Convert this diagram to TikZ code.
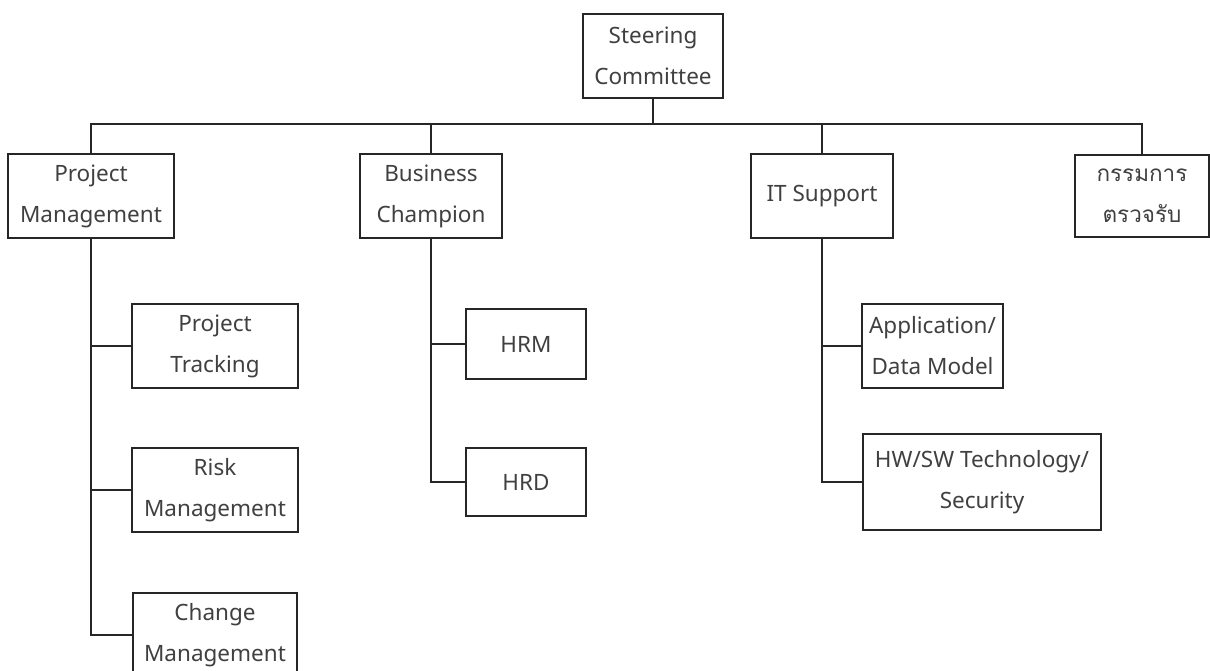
\documentclass[tikz,border=0pt]{standalone}
\usepackage{fontspec}
\setmainfont{Noto Sans}
\newfontfamily\thaifont[Script=Thai]{Loma}
\definecolor{txt}{HTML}{404040}
\definecolor{ln}{HTML}{262626}
\begin{document}
\begin{tikzpicture}[x=1pt,y=-1pt,
  box/.style={draw=ln, line width=1.4pt, rectangle, inner sep=0pt, align=center,
    text=txt, font=\fontsize{22.5}{41}\selectfont},
  conn/.style={draw=ln, line width=1.5pt}]
\fill[white] (0,0) rectangle (1210,671);
\useasboundingbox (0,0) rectangle (1210,671);
% top
\node[box, minimum width=140pt, minimum height=84pt] (steer) at (653,56) {Steering\\Committee};
% level 1
\node[box, minimum width=166pt, minimum height=84pt] (pm) at (91,196) {Project\\Management};
\node[box, minimum width=142pt, minimum height=84pt] (bc) at (431,196) {Business\\Champion};
\node[box, minimum width=142pt, minimum height=84pt] (it) at (822,196) {IT Support};
\node[box, minimum width=134pt, minimum height=82pt] (thai) at (1142,196) {\thaifont กรรมการ\\\thaifont ตรวจรับ};
% level 2
\node[box, minimum width=166pt, minimum height=84pt] (pt) at (215,346) {Project\\Tracking};
\node[box, minimum width=166pt, minimum height=84pt] (rm) at (215,490) {Risk\\Management};
\node[box, minimum width=164pt, minimum height=84pt] (cm) at (215,635) {Change\\Management};
\node[box, minimum width=120pt, minimum height=70pt] (hrm) at (526,344) {HRM};
\node[box, minimum width=120pt, minimum height=68pt] (hrd) at (526,482) {HRD};
\node[box, minimum width=141pt, minimum height=84pt] (app) at (932.5,346) {Application/\\Data Model};
\node[box, minimum width=238pt, minimum height=96pt] (hw) at (982,482) {HW/SW Technology/\\Security};
% bus
\coordinate (bus) at (653,124);
\draw[conn] (steer.south) -- (bus);
\draw[conn] (pm.north) |- (bus);
\draw[conn] (bc.north) |- (bus);
\draw[conn] (it.north) |- (bus);
\draw[conn] (thai.north) |- (bus);
% project management subtree
\draw[conn] (pm.south) |- (cm.west);
\draw[conn] (pm.south |- pt.west) -- (pt.west);
\draw[conn] (pm.south |- rm.west) -- (rm.west);
% business champion subtree
\draw[conn] (bc.south) |- (hrd.west);
\draw[conn] (bc.south |- hrm.west) -- (hrm.west);
% IT subtree
\draw[conn] (it.south) |- (hw.west);
\draw[conn] (it.south |- app.west) -- (app.west);
\end{tikzpicture}
\end{document}
